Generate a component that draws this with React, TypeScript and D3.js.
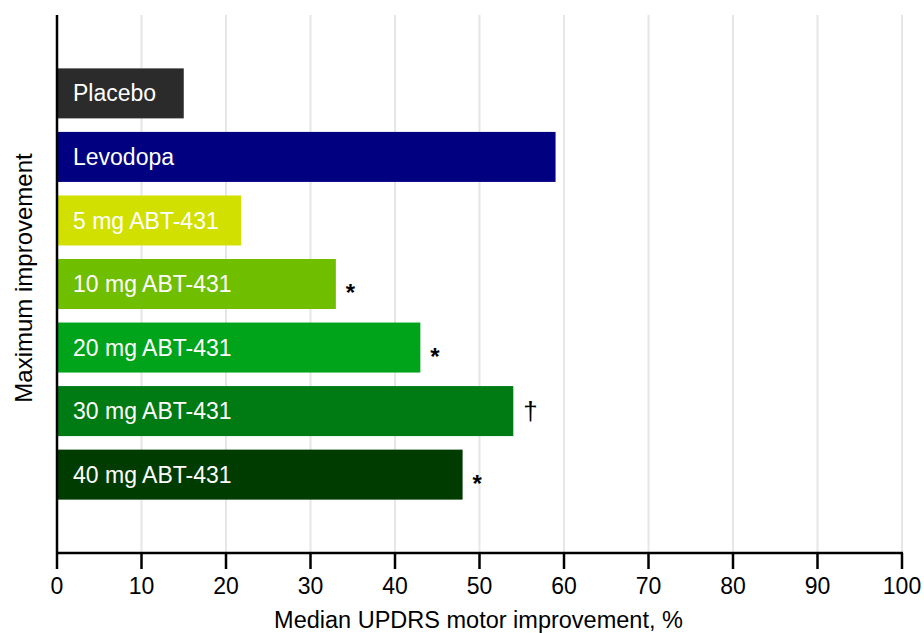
import React from "react";
import * as d3 from "d3";

const categories = ["Placebo", "Levodopa", "5 mg ABT-431", "10 mg ABT-431", "20 mg ABT-431", "30 mg ABT-431", "40 mg ABT-431"];
const values = [15, 59, 21.8, 33, 43, 54, 48];
const marks = ["", "", "", "*", "*", "†", "*"];
const colors = ["#2b2b2b", "#000080", "#d2e000", "#70be00", "#00a41a", "#007a12", "#003c00"];
const xTicks = [0, 10, 20, 30, 40, 50, 60, 70, 80, 90, 100];

export default function App() {
  const W = 924, H = 633;
  const left = 57, right = 902, top = 15, bottom = 553;
  const x = d3.scaleLinear().domain([0, 100]).range([left, right]);
  const y = d3.scaleBand().domain(categories).range([top, bottom]).paddingInner(0.213).paddingOuter(0.84);
  const font = "'Liberation Sans', Arial, sans-serif";
  return (
    <svg width={W} height={H} style={{ position: "absolute", left: 0, top: 0, background: "#fff" }} fontFamily={font}>
      {xTicks.filter(t => t > 0).map(t => (
        <line key={"g" + t} x1={x(t)} x2={x(t)} y1={top} y2={bottom} stroke="#e6e6e6" strokeWidth={2} />
      ))}
      {categories.map((c, i) => (
        <g key={c}>
          <rect x={x(0)} y={y(c)} width={x(values[i]) - x(0)} height={y.bandwidth()} fill={colors[i]} />
          <text x={x(0) + 16} y={y(c)! + y.bandwidth() / 2} dy="0.35em" fill="#fff" fontSize={23}>{c}</text>
          {marks[i] && (
            <text x={x(values[i]) + 10} y={y(c)! + y.bandwidth() / 2 + (marks[i] === "*" ? 9 : 0)} dy="0.35em" fontSize={marks[i] === "*" ? 24 : 26} fontWeight={marks[i] === "*" ? "bold" : "normal"} fill="#000">{marks[i]}</text>
          )}
        </g>
      ))}
      <line x1={left} x2={left} y1={top} y2={bottom} stroke="#000" strokeWidth={2.5} />
      <line x1={left - 1} x2={right + 1} y1={bottom} y2={bottom} stroke="#000" strokeWidth={2.5} />
      {xTicks.map(t => (
        <g key={"t" + t}>
          <line x1={x(t)} x2={x(t)} y1={bottom} y2={bottom + 16} stroke="#000" strokeWidth={2.5} />
          <text x={x(t)} y={594} textAnchor="middle" fontSize={23} fill="#000">{t}</text>
        </g>
      ))}
      <text x={(left + right) / 2 - 1} y={628} textAnchor="middle" fontSize={23.5} fill="#000">Median UPDRS motor improvement, %</text>
      <text transform={`translate(32, ${(top + bottom) / 2 - 6}) rotate(-90)`} textAnchor="middle" fontSize={24} fill="#000">Maximum improvement</text>
    </svg>
  );
}
